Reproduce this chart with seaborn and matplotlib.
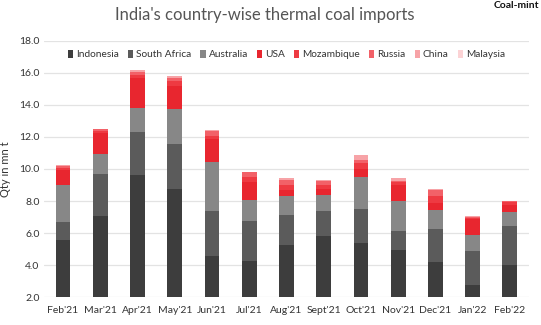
import numpy as np
import pandas as pd
import matplotlib
matplotlib.use("Agg")
import matplotlib.pyplot as plt
from matplotlib.patches import Patch
import seaborn as sns

months = ["Feb'21", "Mar'21", "Apr'21", "May'21", "Jun'21", "Jul'21", "Aug'21",
          "Sept'21", "Oct'21", "Nov'21", "Dec'21", "Jan'22", "Feb'22"]
indonesia    = [5.56, 7.06, 9.60, 8.78, 4.56, 4.29, 5.25, 5.81, 5.38, 4.98, 4.21, 2.79, 4.04]
south_africa = [1.15, 2.65, 2.71, 2.76, 2.84, 2.44, 1.90, 1.59, 2.10, 1.15, 2.08, 2.09, 2.38]
australia    = [2.29, 1.25, 1.47, 2.19, 3.04, 1.36, 1.14, 0.98, 2.02, 1.90, 1.13, 1.02, 0.92]
usa          = [0.92, 1.31, 1.89, 1.46, 1.42, 1.10, 0.40, 0.35, 0.50, 0.95, 0.48, 0.96, 0.39]
mozambique   = [0.15, 0.12, 0.20, 0.30, 0.20, 0.30, 0.30, 0.30, 0.36, 0.20, 0.40, 0.10, 0.20]
russia       = [0.10, 0.08, 0.20, 0.20, 0.30, 0.30, 0.30, 0.20, 0.20, 0.10, 0.40, 0.06, 0.05]
china        = [0.08, 0.05, 0.10, 0.08, 0.06, 0.05, 0.13, 0.06, 0.34, 0.18, 0.08, 0.04, 0.02]
malaysia     = [0.00, 0.00, 0.00, 0.00, 0.00, 0.00, 0.00, 0.00, 0.00, 0.00, 0.00, 0.00, 0.00]

series_names = ["Indonesia", "South Africa", "Australia", "USA", "Mozambique",
                "Russia", "China", "Malaysia"]
series_vals = [indonesia, south_africa, australia, usa, mozambique, russia, china, malaysia]
colors = ["#3d3d3d", "#5b5b5b", "#878787", "#e8262f", "#ee3a42", "#f26168",
          "#f7a3a7", "#fcd3d5"]

df = pd.DataFrame({"month": months})
for n, v in zip(series_names, series_vals):
    df[n] = v
cum = df[series_names].cumsum(axis=1)

sns.set_style("white")
plt.rcParams["font.family"] = ["Lato", "DejaVu Sans"]

fig = plt.figure(figsize=(5.41, 3.25), dpi=100)
ax = fig.add_axes([0.082, 0.085, 0.895, 0.79])

for name, col in zip(reversed(series_names), reversed(colors)):
    sns.barplot(x=df["month"], y=cum[name], color=col, width=0.4,
                saturation=1, ax=ax, zorder=3, linewidth=0, edgecolor="none")

ax.set_ylim(2, 18)
ax.set_yticks(np.arange(2, 18.1, 2))
ax.set_yticklabels([f"{t:.1f}" for t in np.arange(2, 18.1, 2)])
ax.set_xlim(-0.5, len(months) - 0.5)
ax.grid(axis="y", color="#e3e3e3", linewidth=0.9, zorder=0)
ax.set_axisbelow(True)
for s in ax.spines.values():
    s.set_visible(False)
ax.tick_params(axis="both", length=0, labelsize=7.5, colors="#333333")
ax.tick_params(axis="x", pad=6)
ax.set_xlabel("")
ax.set_ylabel("Qty in mn t", fontsize=8, color="#333333", labelpad=6)

handles = [Patch(facecolor=c, edgecolor="none") for c in colors]
ax.legend(handles, series_names, loc="upper center", bbox_to_anchor=(0.5, 1.0),
          ncol=8, frameon=False, fontsize=7.3, handlelength=0.5, handleheight=0.9,
          handletextpad=0.3, columnspacing=0.9, labelcolor="#333333")

fig.text(0.49, 0.955, "India's country-wise thermal coal imports", ha="center",
         va="center", fontsize=12, color="#555555")
fig.text(0.997, 0.997, "Coal-mint", ha="right", va="top", fontsize=7.5,
         fontweight="bold", color="#111111")

fig.savefig("out.png", dpi=100, facecolor="white")
